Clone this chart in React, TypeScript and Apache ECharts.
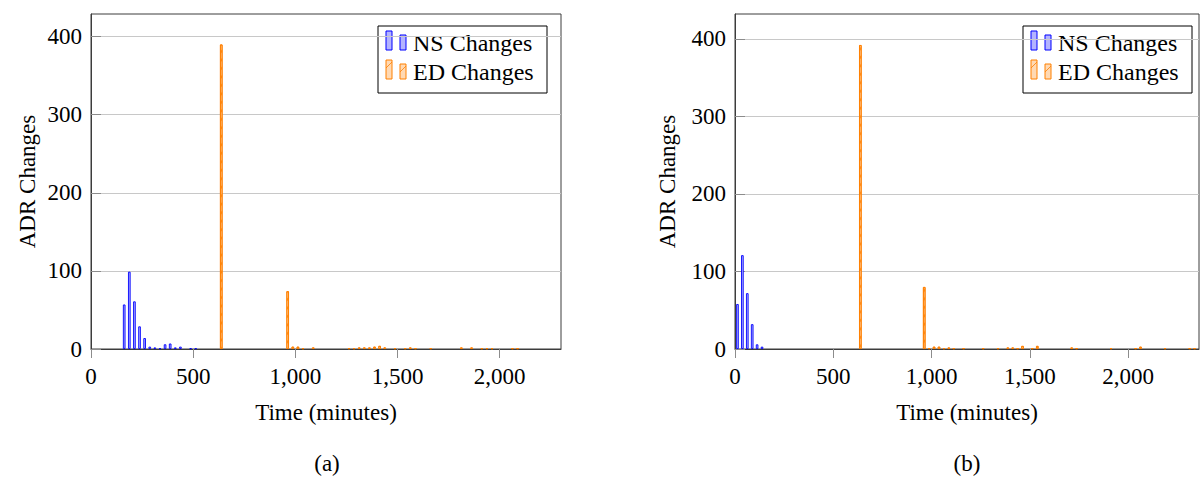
import React, { useEffect, useRef } from "react";
import * as echarts from "echarts";

// ---------- Data (bin centres in minutes, ADR change counts) ----------
const nsAMinutes = [162.5, 187.5, 212.5, 237.5, 262.5, 287.5, 312.5, 337.5, 362.5, 387.5, 412.5, 437.5, 487.5, 512.5];
const nsAValues = [57, 99, 61, 29, 14, 3, 2, 1, 6, 7, 2, 3, 1, 1];

const edAMinutes = [637.5, 962.5, 987.5, 1012.5, 1037.5, 1087.5, 1262.5, 1287.5, 1312.5, 1337.5, 1362.5, 1387.5, 1412.5, 1437.5, 1487.5, 1537.5, 1562.5, 1587.5, 1662.5, 1812.5, 1862.5, 1912.5, 1937.5, 1962.5, 2062.5, 2087.5];
const edAValues = [390, 74, 3, 3, 1, 2, 1, 1, 2, 2, 2, 3, 4, 2, 1, 1, 2, 1, 1, 2, 2, 1, 1, 1, 1, 1];

const nsBMinutes = [12.5, 37.5, 62.5, 87.5, 112.5, 137.5];
const nsBValues = [58, 121, 72, 32, 6, 3];

const edBMinutes = [637.5, 962.5, 987.5, 1012.5, 1037.5, 1062.5, 1087.5, 1112.5, 1162.5, 1262.5, 1337.5, 1387.5, 1412.5, 1437.5, 1462.5, 1512.5, 1537.5, 1712.5, 1737.5, 1912.5, 2037.5, 2062.5, 2187.5, 2312.5, 2337.5];
const edBValues = [392, 80, 1, 3, 3, 1, 2, 1, 1, 1, 1, 2, 2, 1, 4, 1, 4, 2, 1, 1, 1, 3, 1, 1, 1];

const xTicks = [0, 500, 1000, 1500, 2000];
const yTicks = [0, 100, 200, 300, 400];
const xMaxA = 2300;
const xMaxB = 2360;
const yMaxA = 429;
const yMaxB = 432;

const seriesNames = ["NS Changes", "ED Changes"];
const captions = ["(a)", "(b)"];
const xName = "Time (minutes)";
const yName = "ADR Changes";

// ---------- Styles ----------
const W = 1201;
const H = 477;
const FONT = "Liberation Serif";
const AXIS = "#3c3c3c";
const TICK = "#8c8c8c";
const GRIDLINE = "#c8c8c8";
const BLUE = "#0000ff";
const BLUE_FILL = "#b3b3ff";
const ORANGE = "#ff8000";
const ORANGE_FILL = "#ffd9b3";

const zip = (xs: number[], ys: number[]) => xs.map((x, i) => [x, ys[i]]);

function xAxisFor(gridIndex: number, max: number) {
  return {
    type: "value",
    gridIndex,
    min: 0,
    max,
    name: xName,
    nameLocation: "middle",
    nameGap: 52,
    nameTextStyle: { fontFamily: FONT, fontSize: 23, color: "#000" },
    axisLine: { show: true, onZero: false, lineStyle: { color: AXIS, width: 1 } },
    axisTick: { show: true, inside: false, length: 9, customValues: xTicks, lineStyle: { color: TICK, width: 1 } },
    axisLabel: {
      customValues: xTicks,
      margin: 16,
      fontFamily: FONT,
      fontSize: 23,
      color: "#000",
      formatter: (v: number) => v.toLocaleString("en-US"),
    },
    splitLine: { show: false },
  };
}

function yAxisFor(gridIndex: number, max: number, nameGap: number) {
  return {
    type: "value",
    gridIndex,
    min: 0,
    max,
    interval: 100,
    name: yName,
    nameLocation: "middle",
    nameRotate: 90,
    nameGap,
    nameTextStyle: { fontFamily: FONT, fontSize: 23, color: "#000" },
    axisLine: { show: true, lineStyle: { color: AXIS, width: 1 } },
    axisTick: { show: true, inside: true, length: 10, customValues: yTicks, lineStyle: { color: TICK, width: 1 } },
    axisLabel: { customValues: yTicks, margin: 9, fontFamily: FONT, fontSize: 23, color: "#000" },
    splitLine: { show: true, lineStyle: { color: GRIDLINE, width: 1 } },
  };
}

const hatch = {
  symbol: "rect",
  symbolSize: 1,
  dashArrayX: [1, 0],
  dashArrayY: [1.5, 4],
  rotation: -Math.PI / 4,
  color: "rgba(255,128,0,0.75)",
  backgroundColor: ORANGE_FILL,
};

function barSeries(name: string, idx: number, xs: number[], ys: number[], isEd: boolean) {
  return {
    type: "bar",
    name,
    xAxisIndex: idx,
    yAxisIndex: idx,
    data: zip(xs, ys),
    barWidth: 2.6,
    barGap: "-100%",
    itemStyle: isEd
      ? { color: ORANGE_FILL, borderColor: ORANGE, borderWidth: 0.9, decal: hatch }
      : { color: BLUE_FILL, borderColor: BLUE, borderWidth: 0.9 },
  };
}

function legendGraphic(left: number, top: number) {
  const w = 169;
  const h = 67;
  const row = (dy: number, fill: string, stroke: string, label: string, hatched: boolean) => {
    const els: any[] = [
      { type: "rect", shape: { x: left + 8, y: top + dy + 5, width: 6, height: 19 }, style: { fill, stroke, lineWidth: 1 } },
      { type: "rect", shape: { x: left + 22, y: top + dy + 9, width: 6, height: 15 }, style: { fill, stroke, lineWidth: 1 } },
      {
        type: "text",
        x: left + 35,
        y: top + dy + 17,
        style: { text: label, fontFamily: FONT, fontSize: 24, fill: "#000", textVerticalAlign: "middle", textAlign: "left" },
      },
    ];
    if (hatched) {
      els.push({ type: "line", shape: { x1: left + 8, y1: top + dy + 13, x2: left + 14, y2: top + dy + 7 }, style: { stroke, lineWidth: 0.8 } });
      els.push({ type: "line", shape: { x1: left + 22, y1: top + dy + 17, x2: left + 28, y2: top + dy + 11 }, style: { stroke, lineWidth: 0.8 } });
    }
    return els;
  };
  return [
    { type: "rect", shape: { x: left, y: top, width: w, height: h }, style: { fill: "#fff", stroke: "#000", lineWidth: 1 } },
    ...row(0, BLUE_FILL, BLUE, seriesNames[0], false),
    ...row(29, ORANGE_FILL, ORANGE, seriesNames[1], true),
  ];
}

const option: any = {
  animation: false,
  backgroundColor: "#fff",
  textStyle: { fontFamily: FONT },
  grid: [
    { left: 91, top: 14, width: 470, height: 335, show: true, borderColor: AXIS, borderWidth: 1, backgroundColor: "transparent" },
    { left: 735, top: 14, width: 464, height: 335, show: true, borderColor: AXIS, borderWidth: 1, backgroundColor: "transparent" },
  ],
  xAxis: [xAxisFor(0, xMaxA), xAxisFor(1, xMaxB)],
  yAxis: [yAxisFor(0, yMaxA, 52), yAxisFor(1, yMaxB, 56)],
  series: [
    barSeries(seriesNames[0], 0, nsAMinutes, nsAValues, false),
    barSeries(seriesNames[1], 0, edAMinutes, edAValues, true),
    barSeries(seriesNames[0], 1, nsBMinutes, nsBValues, false),
    barSeries(seriesNames[1], 1, edBMinutes, edBValues, true),
  ],
  graphic: [
    ...legendGraphic(378, 26),
    ...legendGraphic(1023, 26),
    {
      type: "text",
      x: 327,
      y: 463,
      style: { text: captions[0], fontFamily: FONT, fontSize: 23, fill: "#000", textAlign: "center", textVerticalAlign: "middle" },
    },
    {
      type: "text",
      x: 967,
      y: 463,
      style: { text: captions[1], fontFamily: FONT, fontSize: 23, fill: "#000", textAlign: "center", textVerticalAlign: "middle" },
    },
  ],
};

export default function App() {
  const ref = useRef<HTMLDivElement>(null);
  useEffect(() => {
    if (!ref.current) return;
    const chart = echarts.init(ref.current, null, { renderer: "svg", width: W, height: H });
    chart.setOption(option);
    return () => chart.dispose();
  }, []);
  return (
    <div
      ref={ref}
      style={{ position: "fixed", left: 0, top: 0, width: W, height: H, background: "#fff" }}
    />
  );
}
